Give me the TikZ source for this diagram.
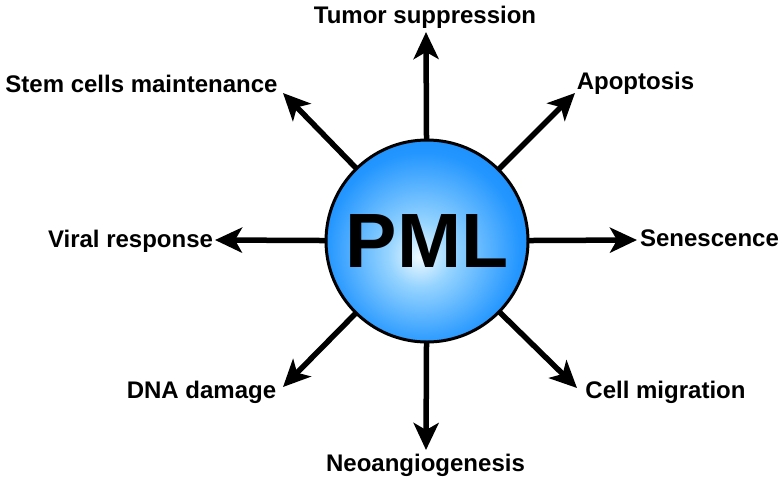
\documentclass[tikz,border=0pt]{standalone}
\usepackage{fontspec}
\setmainfont{Liberation Sans}
\usetikzlibrary{arrows.meta}
\pgfdeclarelayer{bg}
\pgfsetlayers{bg,main}
\definecolor{pmlA}{RGB}{238,250,255}
\definecolor{pmlB}{RGB}{150,212,255}
\definecolor{pmlC}{RGB}{35,150,255}
\definecolor{pmlD}{RGB}{15,122,240}
\definecolor{pmlE}{RGB}{5,92,200}
\pgfdeclareradialshading{pmlshade}{\pgfpoint{-2bp}{-4bp}}{%
  color(0bp)=(pmlA); color(8bp)=(pmlB); color(24bp)=(pmlC); color(42bp)=(pmlD); color(50bp)=(pmlE)}
\tikzset{
  lbl/.style={anchor=base, inner sep=0pt, font=\bfseries\fontsize{24}{28}\selectfont},
  arr/.style={line width=5.5pt, -{Stealth[length=27pt,width=25pt,inset=7pt]}},
  core/.style={circle, draw=black, line width=3pt, minimum size=202pt, inner sep=0pt, shading=pmlshade,
    font=\bfseries\fontsize{77}{80}\selectfont}
}
\begin{document}
\begin{tikzpicture}[x=1pt,y=-1pt]
\useasboundingbox (0,0) rectangle (784,483);
\node[core] (pml) at (427,241) {PML};

\node[lbl] (tumor) at (425,23) {Tumor suppression};
\node[lbl] (stem) at (141.5,92) {Stem cells maintenance};
\node[lbl] (apop) at (635.5,89) {Apoptosis};
\node[lbl] (viral) at (130.5,247) {Viral response};
\node[lbl] (sen) at (709.5,246) {Senescence};
\node[lbl] (dna) at (201.5,398) {DNA damage};
\node[lbl] (mig) at (665.5,398) {Cell migration};
\node[lbl] (neo) at (425.5,471) {Neoangiogenesis};

\coordinate (tN) at (426,32);
\coordinate (tNW) at (283,93);
\coordinate (tNE) at (575,93);
\coordinate (tW) at (215,240);
\coordinate (tE) at (637,240);
\coordinate (tSW) at (283,387);
\coordinate (tSE) at (577,388);
\coordinate (tS) at (426,450);

\begin{pgfonlayer}{bg}
\draw[arr] (pml.center) -- (tN);
\draw[arr] (pml.center) -- (tNW);
\draw[arr] (pml.center) -- (tNE);
\draw[arr] (pml.center) -- (tW);
\draw[arr] (pml.center) -- (tE);
\draw[arr] (pml.center) -- (tSW);
\draw[arr] (pml.center) -- (tSE);
\draw[arr] (pml.center) -- (tS);
\end{pgfonlayer}
\end{tikzpicture}
\end{document}
